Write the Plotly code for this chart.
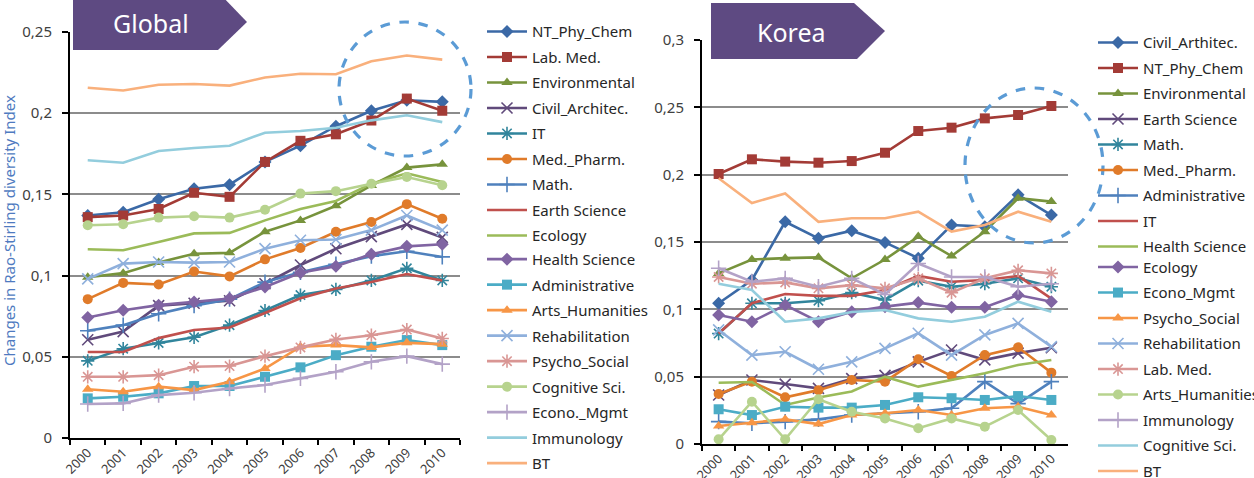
import plotly.graph_objects as go

W, H = 1254, 478

years = ["2000", "2001", "2002", "2003", "2004", "2005", "2006", "2007", "2008", "2009", "2010"]

# ---------------- Global ----------------
global_names = ["NT_Phy_Chem", "Lab. Med.", "Environmental", "Civil_Architec.", "IT", "Med._Pharm.",
                "Math.", "Earth Science", "Ecology", "Health Science", "Administrative",
                "Arts_Humanities", "Rehabilitation", "Psycho_Social", "Cognitive Sci.",
                "Econo._Mgmt", "Immunology", "BT"]
g_nt_phy_chem = [0.137, 0.139, 0.147, 0.1535, 0.156, 0.170, 0.180, 0.192, 0.2015, 0.208, 0.207]
g_lab_med = [0.136, 0.137, 0.141, 0.151, 0.1485, 0.170, 0.183, 0.187, 0.1955, 0.209, 0.2015]
g_environmental = [0.099, 0.1015, 0.108, 0.1135, 0.114, 0.127, 0.134, 0.143, 0.1555, 0.1665, 0.1685]
g_civil = [0.0605, 0.0655, 0.0815, 0.083, 0.0845, 0.095, 0.1065, 0.1165, 0.124, 0.1315, 0.1235]
g_it = [0.0475, 0.055, 0.0585, 0.062, 0.0695, 0.0785, 0.088, 0.0915, 0.097, 0.1045, 0.097]
g_med_pharm = [0.0855, 0.0955, 0.0945, 0.1025, 0.0995, 0.110, 0.117, 0.127, 0.133, 0.144, 0.135]
g_math = [0.066, 0.0695, 0.0765, 0.0815, 0.0855, 0.096, 0.102, 0.107, 0.112, 0.115, 0.1115]
g_earth = [0.053, 0.053, 0.0615, 0.0665, 0.068, 0.077, 0.086, 0.092, 0.096, 0.101, 0.097]
g_ecology = [0.1162, 0.1156, 0.1207, 0.126, 0.1263, 0.134, 0.141, 0.146, 0.1566, 0.163, 0.1577]
g_health = [0.0742, 0.0787, 0.0818, 0.0838, 0.0859, 0.093, 0.1017, 0.1058, 0.1132, 0.118, 0.1193]
g_admin = [0.0244, 0.0254, 0.0275, 0.032, 0.032, 0.0377, 0.0435, 0.051, 0.0562, 0.0603, 0.0572]
g_arts = [0.030, 0.0285, 0.0316, 0.0295, 0.0346, 0.0428, 0.0562, 0.0572, 0.0558, 0.0586, 0.0578]
g_rehab = [0.098, 0.1074, 0.1084, 0.108, 0.1084, 0.1166, 0.1218, 0.1222, 0.128, 0.137, 0.128]
g_psycho = [0.0377, 0.0377, 0.0387, 0.0439, 0.0443, 0.0504, 0.0558, 0.0607, 0.0633, 0.0668, 0.0613]
g_cognitive = [0.131, 0.1316, 0.1357, 0.1365, 0.1357, 0.1406, 0.1505, 0.152, 0.1566, 0.1607, 0.1556]
g_econo = [0.0209, 0.0213, 0.0264, 0.0279, 0.0305, 0.0326, 0.0367, 0.0408, 0.0469, 0.0504, 0.0455]
g_immunology = [0.171, 0.1695, 0.1767, 0.1786, 0.18, 0.188, 0.189, 0.191, 0.1956, 0.1987, 0.1945]
g_bt = [0.2157, 0.214, 0.2175, 0.218, 0.217, 0.222, 0.2243, 0.224, 0.232, 0.2355, 0.233]
global_values = [g_nt_phy_chem, g_lab_med, g_environmental, g_civil, g_it, g_med_pharm, g_math,
                 g_earth, g_ecology, g_health, g_admin, g_arts, g_rehab, g_psycho, g_cognitive,
                 g_econo, g_immunology, g_bt]

# ---------------- Korea ----------------
korea_names = ["Civil_Arthitec.", "NT_Phy_Chem", "Environmental", "Earth Science", "Math.",
               "Med._Pharm.", "Administrative", "IT", "Health Science", "Ecology", "Econo_Mgmt",
               "Psycho_Social", "Rehabilitation", "Lab. Med.", "Arts_Humanities", "Immunology",
               "Cognitive Sci.", "BT"]
k_civil = [0.1045, 0.1218, 0.165, 0.1527, 0.1584, 0.1497, 0.138, 0.1626, 0.1614, 0.185, 0.170]
k_nt_phy_chem = [0.2005, 0.2114, 0.2097, 0.2089, 0.2101, 0.2163, 0.2324, 0.2349, 0.2418, 0.2443, 0.251]
k_environmental = [0.1267, 0.137, 0.138, 0.1386, 0.123, 0.137, 0.154, 0.1396, 0.1577, 0.1825, 0.180]
k_earth = [0.0364, 0.0475, 0.0445, 0.0413, 0.0485, 0.051, 0.061, 0.0698, 0.0625, 0.0675, 0.0715]
k_math = [0.082, 0.1045, 0.1045, 0.1064, 0.1124, 0.107, 0.1213, 0.1168, 0.119, 0.123, 0.1168]
k_med_pharm = [0.0371, 0.0463, 0.0347, 0.040, 0.0475, 0.0463, 0.0629, 0.0505, 0.066, 0.0718, 0.053]
k_admin = [0.0166, 0.0154, 0.0166, 0.0183, 0.0215, 0.0228, 0.024, 0.0265, 0.0463, 0.030, 0.0463]
k_it = [0.082, 0.1045, 0.1114, 0.110, 0.110, 0.1144, 0.1248, 0.1205, 0.1218, 0.1248, 0.108]
k_health = [0.0455, 0.046, 0.029, 0.0345, 0.039, 0.050, 0.0426, 0.0475, 0.0525, 0.0587, 0.0624]
k_ecology = [0.0958, 0.0908, 0.1032, 0.0908, 0.0982, 0.102, 0.105, 0.1015, 0.1015, 0.1106, 0.1057]
k_econo = [0.0258, 0.0215, 0.0277, 0.027, 0.027, 0.029, 0.0347, 0.034, 0.0327, 0.0356, 0.0327]
k_psycho = [0.0134, 0.0158, 0.0183, 0.0148, 0.0215, 0.0228, 0.0252, 0.0215, 0.0265, 0.0277, 0.0215]
k_rehab = [0.0847, 0.066, 0.0685, 0.0555, 0.061, 0.071, 0.0822, 0.066, 0.081, 0.0896, 0.0723]
k_lab_med = [0.124, 0.119, 0.12, 0.1156, 0.118, 0.1156, 0.123, 0.1124, 0.123, 0.129, 0.1267]
k_arts = [0.0035, 0.0314, 0.0035, 0.0332, 0.024, 0.019, 0.0117, 0.019, 0.0129, 0.0252, 0.003]
k_immunology = [0.1305, 0.1205, 0.123, 0.1168, 0.123, 0.111, 0.134, 0.124, 0.124, 0.1168, 0.119]
k_cognitive = [0.119, 0.1144, 0.0908, 0.0933, 0.098, 0.0995, 0.0933, 0.0908, 0.0945, 0.1057, 0.0982]
k_bt = [0.1973, 0.179, 0.186, 0.165, 0.1676, 0.1676, 0.1725, 0.1577, 0.1626, 0.1725, 0.165]
korea_values = [k_civil, k_nt_phy_chem, k_environmental, k_earth, k_math, k_med_pharm, k_admin,
                k_it, k_health, k_ecology, k_econo, k_psycho, k_rehab, k_lab_med, k_arts,
                k_immunology, k_cognitive, k_bt]

# series styles by position (Excel-like palette)
colors = ["#3b69a6", "#a33b36", "#77933c", "#604a7b", "#31859c", "#e07b2a",
          "#4f81bd", "#c0504d", "#9bbb59", "#8064a2", "#4bacc6", "#f79646",
          "#8fb0dc", "#d99694", "#b7d38e", "#b3a2c7", "#93cddd", "#f9b07c"]
symbols = ["diamond", "square", "triangle-up", "x-thin-open", "asterisk-open", "circle",
           "cross-thin-open", None, None, "diamond", "square", "triangle-up",
           "x-thin-open", "asterisk-open", "circle", "cross-thin-open", None, None]

FONT = "Noto Sans"
fig = go.Figure()


def add_series(names, values, xa, ya, legends, prefix):
    for i, (nm, vals) in enumerate(zip(names, values)):
        sym = symbols[i]
        kw = dict(x=years, y=vals, name=nm, xaxis=xa, yaxis=ya,
                  legend=legends[0] if i < 9 else legends[1],
                  legendgroup=prefix + str(i),
                  line=dict(color=colors[i], width=2.6))
        if sym is None:
            kw["mode"] = "lines"
        else:
            kw["mode"] = "lines+markers"
            thin = ("thin" in sym) or ("asterisk" in sym)
            kw["marker"] = dict(symbol=sym, size=11 if thin else 10, color=colors[i],
                                line=dict(width=1.6 if thin else 0, color=colors[i]))
        fig.add_trace(go.Scatter(**kw))


add_series(global_names, global_values, "x", "y", ("legend", "legend3"), "g")
add_series(korea_names, korea_values, "x2", "y2", ("legend2", "legend4"), "k")


def px(x, y):
    return x / W, 1 - y / H


xaxis_common = dict(type="category", range=[-0.5, 10.5], tickson="boundaries", ticks="outside",
                    ticklen=5, tickcolor="#000", tickwidth=1.5, showline=True, linecolor="#000",
                    linewidth=2, showgrid=False, tickangle=-45, automargin=False,
                    tickfont=dict(family=FONT, size=13, color="#404040"), fixedrange=True)
yaxis_common = dict(ticks="outside", ticklen=6, tickcolor="#000", tickwidth=1.5, showline=True,
                    linecolor="#000", linewidth=2, showgrid=True, gridcolor="#8c8c8c",
                    gridwidth=1.5, zeroline=False, dtick=0.05, ticklabelstandoff=7,
                    automargin=False,
                    tickfont=dict(family=FONT, size=15, color="#404040"))

LEG_OFF = 16.5  # legend top to first item centre


def legend_at(x_left, y_first):
    return dict(x=x_left / W, xanchor="left", y=1 - (y_first - LEG_OFF) / H, yanchor="top",
                traceorder="grouped", tracegroupgap=3, itemwidth=40, bgcolor="rgba(0,0,0,0)",
                font=dict(family=FONT, size=15, color="#262626"))


fig.update_layout(
    width=W, height=H,
    margin=dict(l=0, r=0, t=0, b=0, autoexpand=False),
    paper_bgcolor="white", plot_bgcolor="white",
    separators=", ",
    showlegend=True,
    xaxis=dict(domain=[70 / W, 460 / W], anchor="y", **xaxis_common),
    yaxis=dict(domain=[1 - 438 / H, 1 - 32 / H], anchor="x", range=[0, 0.25], **yaxis_common),
    xaxis2=dict(domain=[702 / W, 1068 / W], anchor="y2", **xaxis_common),
    yaxis2=dict(domain=[1 - 444 / H, 1 - 40 / H], anchor="x2", range=[0, 0.3], **yaxis_common),
    legend=legend_at(482, 31.7),
    legend3=legend_at(482, 31.7 + 9 * 25.3),
    legend2=legend_at(1093, 42.7),
    legend4=legend_at(1093, 40.5 + 9 * 25.2),
)

# banners
banner_color = "#5e4a82"


def path(points):
    pts = [px(x, y) for x, y in points]
    return "M " + " L ".join(f"{a:.5f},{b:.5f}" for a, b in pts) + " Z"


fig.add_shape(type="path", xref="paper", yref="paper",
              path=path([(73, -6), (220, -6), (247, 22), (218, 50), (73, 50)]),
              fillcolor=banner_color, line=dict(width=0), layer="above")
fig.add_shape(type="path", xref="paper", yref="paper",
              path=path([(711, 3), (854, 3), (885, 31), (857, 59), (711, 59)]),
              fillcolor=banner_color, line=dict(width=0), layer="above")

gx, gy = px(151, 23)
kx, ky = px(791, 32)
fig.add_annotation(x=gx, y=gy, xref="paper", yref="paper", text="Global", showarrow=False,
                   font=dict(family=FONT, size=25, color="white"), xanchor="center", yanchor="middle")
fig.add_annotation(x=kx, y=ky, xref="paper", yref="paper", text="Korea", showarrow=False,
                   font=dict(family=FONT, size=25, color="white"), xanchor="center", yanchor="middle")

# y-axis title
tx, ty = px(9, 231)
fig.add_annotation(x=tx, y=ty, xref="paper", yref="paper",
                   text="Changes in Rao-Stirling diversity Index", showarrow=False, textangle=-90,
                   font=dict(family=FONT, size=15, color="#4e7ac0"), xanchor="center", yanchor="middle")

# dashed highlight circles
ex0, ey0 = px(339, 22)
ex1, ey1 = px(471, 156)
fig.add_shape(type="circle", xref="paper", yref="paper", x0=ex0, y0=ey1, x1=ex1, y1=ey0,
              line=dict(color="#5b9bd5", width=3.2, dash="dash"), layer="above")
ex0, ey0 = px(965, 88)
ex1, ey1 = px(1103, 243)
fig.add_shape(type="circle", xref="paper", yref="paper", x0=ex0, y0=ey1, x1=ex1, y1=ey0,
              line=dict(color="#5b9bd5", width=3.2, dash="dash"), layer="above")

fig.write_html("out.html")
